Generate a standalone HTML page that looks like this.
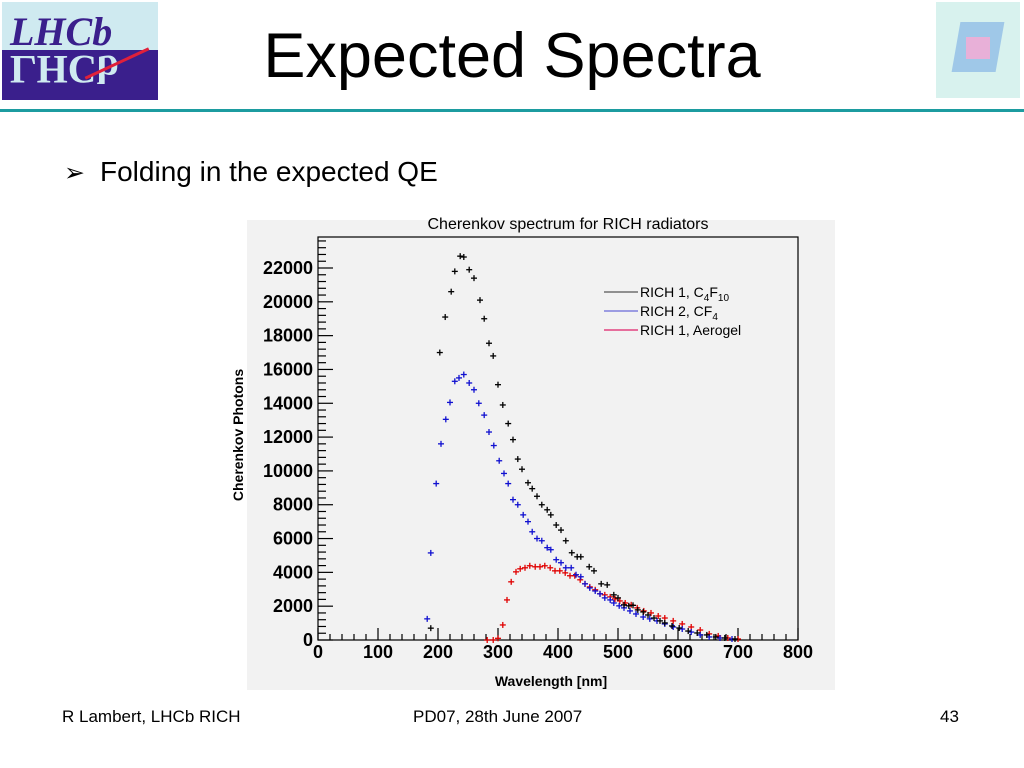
<!DOCTYPE html>
<html><head><meta charset="utf-8"><style>
body{margin:0;width:1024px;height:768px;background:#fff;position:relative;overflow:hidden;font-family:"Liberation Sans",sans-serif}
.abs{position:absolute}
</style></head><body>
<div class="abs" style="left:2px;top:2px;width:156px;height:98px;background:#cfeaf0;overflow:hidden">
 <div class="abs" style="left:0;top:48px;width:156px;height:50px;background:#3a1f8c"></div>
 <div class="abs" style="left:8px;top:6px;font:italic bold 40px 'Liberation Serif',serif;color:#3a1f8c">LHCb</div>
 <div class="abs" style="left:8px;top:44px;font:bold 40px 'Liberation Serif',serif;color:#cfeaf0;transform:scaleY(-1)">LHCb</div>
 <div class="abs" style="left:80px;top:60px;width:70px;height:3px;background:#e0203a;transform:rotate(-25deg)"></div>
</div>
<div class="abs" style="left:936px;top:2px;width:84px;height:96px;background:#d8f2ee">
 <div class="abs" style="left:20px;top:20px;width:44px;height:50px;background:#9fc8e8;transform:skew(-10deg)"></div>
 <div class="abs" style="left:30px;top:35px;width:24px;height:22px;background:#e8b0d8"></div>
</div>
<div class="abs" style="left:0;width:1024px;top:20px;text-align:center;font-size:63px;color:#000">Expected Spectra</div>
<div class="abs" style="left:0;top:109px;width:1024px;height:3px;background:#1c9ca0"></div>
<div class="abs" style="left:64px;top:158px;font-size:25px">➢</div>
<div class="abs" style="left:100px;top:156px;font-size:28px">Folding in the expected QE</div>
<div class="abs" style="left:247px;top:220px;width:588px;height:470px;background:#f2f2f2"></div>
<svg class="abs" style="left:0;top:0" width="1024" height="768" id="chart"></svg>
<div class="abs" style="left:62px;top:707px;font-size:17px">R Lambert, LHCb RICH</div>
<div class="abs" style="left:413px;top:707px;font-size:17px">PD07, 28th June 2007</div>
<div class="abs" style="left:940px;top:707px;font-size:17px">43</div>
<script>
const xTicks=[0,100,200,300,400,500,600,700,800];
const yTicks=[0,2000,4000,6000,8000,10000,12000,14000,16000,18000,20000,22000];
const c4f10Wl=[188,203,212,222,228,237,243,252,260,270,277,285,292,300,308,317,325,333,340,350,357,365,373,382,388,397,405,413,423,432,438,452,460,472,482,493,500,510,518,525,533,542,550,560,570,578,590,602,617,632,648,663,678,695];
const c4f10Val=[700,17000,19100,20600,21800,22700,22650,21900,21400,20100,19000,17550,16800,15100,13900,12800,11850,10700,10100,9300,8950,8500,8000,7700,7400,6800,6500,5870,5160,4920,4920,4330,4090,3320,3260,2670,2490,2080,2020,2050,1780,1660,1480,1300,1130,1010,830,710,530,415,300,180,120,60];
const cf4Wl=[182,188,197,205,213,220,228,235,243,252,260,268,277,285,293,302,310,317,325,333,342,350,357,365,373,382,388,397,405,413,422,430,438,445,453,462,470,478,487,493,502,510,520,530,542,553,565,578,592,607,622,637,652,670,690];
const cf4Val=[1250,5150,9250,11600,13050,14050,15300,15500,15700,15200,14800,14000,13300,12300,11500,10600,9850,9250,8300,8000,7400,7000,6400,6000,5870,5460,5340,4750,4570,4270,4270,3860,3740,3320,3080,2900,2730,2490,2370,2190,2020,1900,1720,1540,1360,1250,1130,950,770,650,470,300,180,120,60];
const aeroWl=[282,292,300,308,315,322,330,337,345,353,362,370,378,387,395,403,412,420,428,437,445,453,462,470,478,487,495,503,512,522,532,543,555,567,578,592,607,622,637,652,667,683,700];
const aeroVal=[0,0,100,890,2370,3440,4030,4210,4270,4390,4330,4330,4390,4270,4090,4090,3970,3800,3800,3560,3320,3140,2970,2730,2670,2550,2430,2310,2190,2080,1900,1720,1600,1420,1300,1130,950,770,590,360,240,120,60];
const svg=document.getElementById('chart');
const NS='http://www.w3.org/2000/svg';
const X0=318,X1=798,Y0=640,YT=237;
const xs=v=>X0+(v/800)*(X1-X0);
const ys=v=>Y0-v*(Y0-268)/22000;
function mk(t,a,p){const e=document.createElementNS(NS,t);for(const k in a)e.setAttribute(k,a[k]);(p||svg).appendChild(e);return e;}
const frame=mk('rect',{x:X0,y:YT,width:X1-X0,height:Y0-YT,fill:'none',stroke:'#000','stroke-width':1.2});


for(let v=0;v<=800;v+=20){const maj=v%100===0;mk('line',{x1:xs(v),x2:xs(v),y1:Y0,y2:Y0-(maj?12:6),stroke:'#000','stroke-width':1.2});}
for(let v=0;v<=23600;v+=400){const maj=v%2000===0;mk('line',{x1:X0,x2:X0+(maj?15:8),y1:ys(v),y2:ys(v),stroke:'#000','stroke-width':1.2});}
xTicks.forEach(v=>{const t=mk('text',{x:xs(v),y:658,'text-anchor':'middle','font-size':18,'font-weight':'bold','font-family':'Liberation Sans,sans-serif'});t.textContent=v;

});
yTicks.forEach(v=>{const t=mk('text',{x:313,y:ys(v)+6,'text-anchor':'end','font-size':18,'font-weight':'bold','font-family':'Liberation Sans,sans-serif'});t.textContent=v;

});
const ct=mk('text',{x:568,y:229,'text-anchor':'middle','font-size':16,'font-family':'Liberation Sans,sans-serif'});ct.textContent='Cherenkov spectrum for RICH radiators';


const xt=mk('text',{x:551,y:686,'text-anchor':'middle','font-size':14,'font-weight':'bold','font-family':'Liberation Sans,sans-serif'});xt.textContent='Wavelength [nm]';


const yt=mk('text',{x:0,y:0,'text-anchor':'middle','font-size':14,'font-weight':'bold','font-family':'Liberation Sans,sans-serif',transform:'translate(243,435) rotate(-90)'});yt.textContent='Cherenkov Photons';


function series(wl,val,col,name){const g=mk('g',{stroke:col,'stroke-width':1.3});


wl.forEach((w,i)=>{const x=xs(w),y=ys(val[i]);mk('line',{x1:x-3,x2:x+3,y1:y,y2:y},g);mk('line',{x1:x,x2:x,y1:y-3,y2:y+3},g);});}
series(aeroWl,aeroVal,'#e00000','series-aerogel');
series(cf4Wl,cf4Val,'#1010d0','series-cf4');
series(c4f10Wl,c4f10Val,'#000','series-c4f10');
const leg=[['#555','RICH 1, C','4','F','10'],['#6a6ad8','RICH 2, CF','4','',''],['#e0206a','RICH 1, Aerogel','','','']];
leg.forEach((l,i)=>{const y=292+i*19;const g=mk('g',{});


mk('line',{x1:604,x2:638,y1:y,y2:y,stroke:l[0],'stroke-width':1.2},g);
const t=mk('text',{x:640,y:y+5,'font-size':14,'font-family':'Liberation Sans,sans-serif'},g);
t.appendChild(document.createTextNode(l[1]));
if(l[2]){const s=mk('tspan',{'font-size':10,dy:4},t);s.textContent=l[2];}
if(l[3]){const s=mk('tspan',{dy:-4},t);s.textContent=l[3];}
if(l[4]){const s=mk('tspan',{'font-size':10,dy:4},t);s.textContent=l[4];}});
</script>
</body></html>
